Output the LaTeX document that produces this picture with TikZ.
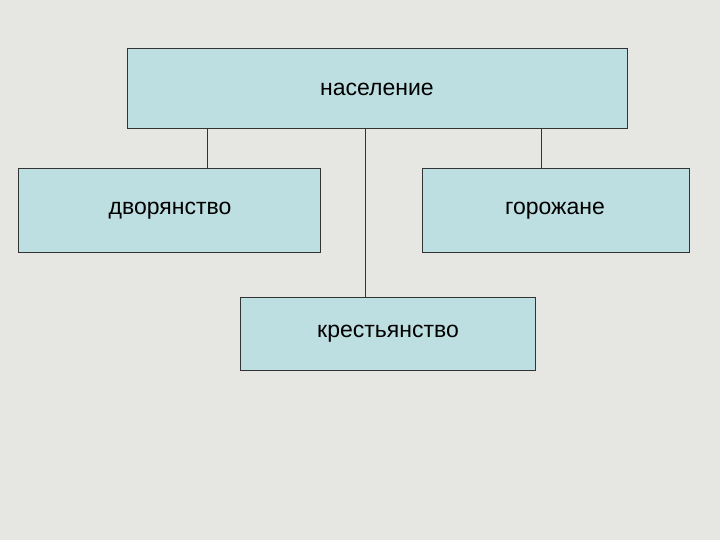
\documentclass[tikz,border=0pt]{standalone}
\usepackage{fontspec}
\setmainfont{Liberation Sans}
\definecolor{bg}{HTML}{E6E6E3}
\definecolor{boxfill}{HTML}{BEDFE1}
\begin{document}
\begin{tikzpicture}[x=1pt,y=-1pt,
  box/.style={draw=black!80,line width=0.8pt,fill=boxfill},
  lbl/.style={font=\fontsize{23}{27}\selectfont},
  conn/.style={draw=black!80,line width=0.8pt}]
\fill[bg] (0,0) rectangle (720,540);
\useasboundingbox (0,0) rectangle (720,540);
\draw[box] (127,48) rectangle (627,128);
\draw[box] (18,168) rectangle (320,252);
\draw[box] (422,168) rectangle (689,252);
\draw[box] (240,297) rectangle (535,370);
\node[lbl] (nas) at (377,89) {население};
\node[lbl] (dvo) at (170,211) {дворянство};
\node[lbl] (gor) at (555,211) {горожане};
\node[lbl] (kre) at (388,334) {крестьянство};
\coordinate (a1) at (207,128); \coordinate (a2) at (207,168);
\coordinate (b1) at (541,128); \coordinate (b2) at (541,168);
\coordinate (c1) at (365,128); \coordinate (c2) at (365,297);
\draw[conn] (a1) -- (a2);
\draw[conn] (b1) -- (b2);
\draw[conn] (c1) -- (c2);
\end{tikzpicture}
\end{document}
